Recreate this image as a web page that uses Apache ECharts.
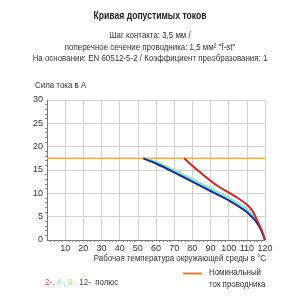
<!DOCTYPE html>
<html>
<head>
<meta charset="utf-8">
<script src="https://cdn.jsdelivr.net/npm/echarts@6/dist/echarts.min.js"></script>
<style>
    html, body { margin: 0; padding: 0; background: #fff; }
    #chart { width: 300px; height: 300px; }
</style>
</head>
<body>
<div id="chart"></div>
<script>
    // данные кривых
    let xTicks = [0, 10, 20, 30, 40, 50, 60, 70, 80, 90, 100, 110, 120];
    let yTicks = [0, 5, 10, 15, 20, 25, 30];

    let nominalTemp = [0, 120];
    let nominalCurrent = [17.5, 17.5];

    let temp2 = [75.5, 80, 90, 95, 100, 105, 110, 113, 115, 118, 120];
    let current2 = [17.5, 15.9, 12.7, 11.3, 10.2, 9.0, 7.6, 6.3, 4.8, 2.3, 0];

    let temp4 = [53, 60, 70, 80, 90, 100, 110, 115, 118, 120];
    let current4 = [17.5, 16.7, 14.9, 13.0, 11.0, 9.0, 6.6, 4.2, 2.1, 0];

    let temp8 = [53, 60, 70, 80, 90, 100, 110, 115, 118, 120];
    let current8 = [17.5, 16.8, 15.0, 13.1, 11.1, 9.1, 6.7, 4.3, 2.1, 0];

    let temp12 = [53, 60, 70, 80, 90, 100, 110, 115, 118, 120];
    let current12 = [17.5, 16.4, 14.5, 12.5, 10.5, 8.5, 6.0, 4.0, 2.0, 0];

    let pairs = (xs, ys) => xs.map((x, i) => [x, ys[i]]);

    let font = 'Liberation Sans, Arial, sans-serif';
    let fs = 9;
    let squeeze = 0.88;   // шрифт на картинке узкий
    let myChart = echarts.init(document.getElementById('chart'), null, {renderer: 'canvas'});

    let curve = (name, color, xs, ys, z) => ({
        name: name,
        type: 'line',
        data: pairs(xs, ys),
        symbol: 'none',
        smooth: 0.12,
        z: z,
        lineStyle: {color: color, width: 2}
    });

    let subLines = [
        'Шаг контакта: 3,5 мм /',
        'поперечное сечение проводника: 1,5 мм² "f-st"',
        'На основании: EN 60512-5-2 / Коэффициент преобразования: 1'
    ];

    let txt = (x, y, text, align) => ({
        type: 'text', x: x, y: y, scaleX: squeeze,
        style: {text: text, fontSize: fs, fill: '#333', fontFamily: font, align: align || 'left', verticalAlign: 'middle'}
    });

    let option = {
        animation: false,
        textStyle: {fontFamily: font},
        grid: {left: 47, right: 35, top: 100, bottom: 60},
        xAxis: {
            type: 'value',
            min: xTicks[0],
            max: xTicks[xTicks.length - 1],
            interval: 10,
            axisLine: {lineStyle: {color: '#777', width: 1}},
            axisTick: {show: false},
            minorTick: {show: true, splitNumber: 5, length: 2, lineStyle: {color: '#888'}},
            splitLine: {lineStyle: {color: '#d0d0d0'}},
            axisLabel: {
                fontSize: fs, color: '#333', margin: 4, fontFamily: font,
                formatter: v => (v === 0 ? '' : String(v))
            }
        },
        yAxis: {
            type: 'value',
            min: yTicks[0],
            max: yTicks[yTicks.length - 1],
            interval: 5,
            axisLine: {show: true, lineStyle: {color: '#777', width: 1}},
            axisTick: {show: false},
            minorTick: {show: true, splitNumber: 5, length: 2, lineStyle: {color: '#888'}},
            splitLine: {lineStyle: {color: '#d0d0d0'}},
            axisLabel: {fontSize: fs, color: '#333', margin: 4, fontFamily: font}
        },
        series: [
            {
                name: 'Номинальный ток проводника',
                type: 'line',
                data: pairs(nominalTemp, nominalCurrent),
                symbol: 'none',
                z: 1,
                lineStyle: {color: '#f3ad55', width: 1.5}
            },
            curve('8-', '#a8eca0', temp8, current8, 2),
            curve('4-', '#88e4e0', temp4, current4, 3),
            curve('12-', '#1c2a8e', temp12, current12, 4),
            curve('2-', '#d42424', temp2, current2, 5)
        ],
        graphic: [
            {
                type: 'text', x: 150, y: 16, scaleX: 0.82,
                style: {text: 'Кривая допустимых токов', fontSize: 10.5, fontWeight: 'bold', fill: '#222',
                    fontFamily: font, align: 'center', verticalAlign: 'middle'}
            },
            txt(150, 35.5, subLines[0], 'center'),
            txt(150, 47.5, subLines[1], 'center'),
            txt(150, 59, subLines[2], 'center'),
            txt(35, 86, 'Сила тока в А'),
            txt(266, 259, 'Рабочая температура окружающей среды в °C', 'right'),
            {
                type: 'text', x: 45, y: 283, scaleX: squeeze,
                style: {
                    text: '{a|2-,} {b|4-,} {c|8-,} {d|12-}  {e|полюс}',
                    fontSize: fs, fontFamily: font, verticalAlign: 'middle',
                    rich: {
                        a: {fill: '#e03838', fontSize: fs, fontFamily: font},
                        b: {fill: '#8ee0e0', fontSize: fs, fontFamily: font},
                        c: {fill: '#a8e088', fontSize: fs, fontFamily: font},
                        d: {fill: '#3a3aa8', fontSize: fs, fontFamily: font},
                        e: {fill: '#333', fontSize: fs, fontFamily: font}
                    }
                }
            },
            {
                type: 'line', shape: {x1: 183, y1: 273.5, x2: 202, y2: 273.5},
                style: {stroke: '#f07a2a', lineWidth: 2}
            },
            txt(209, 273, 'Номинальный'),
            txt(209, 284.5, 'ток проводника')
        ]
    };
    myChart.setOption(option);
</script>
</body>
</html>
